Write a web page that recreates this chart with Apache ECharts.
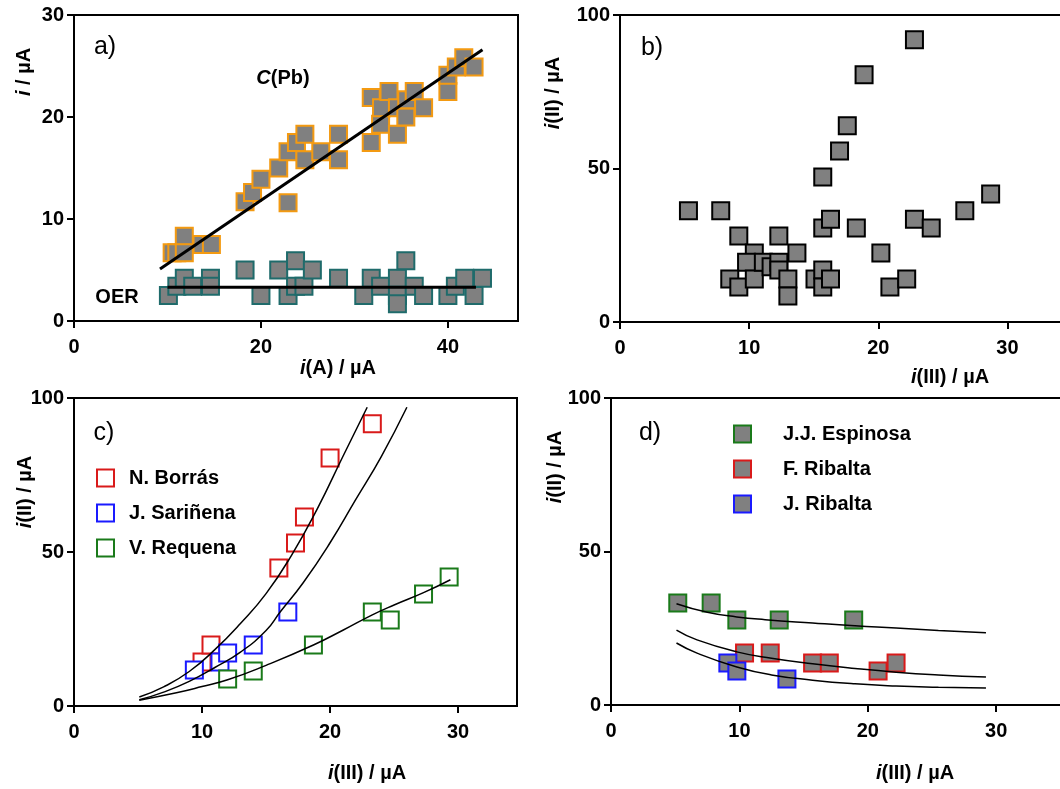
<!DOCTYPE html>
<html>
<head>
<meta charset="utf-8">
<title>chart</title>
<script src="https://cdn.jsdelivr.net/npm/echarts@6.0.0/dist/echarts.min.js"></script>
<style>
  html, body { margin: 0; padding: 0; background: #fff; }
  #chart { width: 1060px; height: 789px; }
</style>
</head>
<body>
<div id="chart"></div>
<script>
// a) C(Pb) and OER vs i(A)
const cpbPoints = [
  [10.5,6.7],[11,6.7],[11.8,8.3],[11.8,6.7],[13.7,7.5],[14.7,7.5],
  [18.3,11.7],[19.1,12.6],[20,13.9],[22.9,11.6],[21.9,15.0],[22.9,16.6],[23.8,17.5],[24.7,18.3],[24.7,15.8],[26.4,16.6],[28.3,18.3],[28.3,15.8],
  [31.8,17.5],[31.8,21.9],[32.8,19.3],[32.9,20.9],[33.7,22.5],[34.6,20.9],[34.6,18.3],[35.5,20.0],[35.6,21.7],[36.4,22.5],[37.4,20.9],
  [40,22.5],[40,24.1],[40.9,24.9],[41.7,25.8],[42.8,24.9]
]
const oerPoints = [
  [10.1,2.5],[11,3.4],[11.8,4.2],[12.7,3.4],[14.6,4.2],[14.6,3.4],[18.3,5.0],[20,2.5],[21.9,5.0],[22.9,2.5],
  [23.7,5.9],[23.7,3.4],[24.6,3.4],[25.5,5.0],[28.3,4.2],[31,2.5],[31.8,4.2],[32.8,3.4],[34.6,4.2],[34.6,2.5],
  [34.6,1.7],[35.5,5.9],[36.4,3.4],[37.4,2.5],[40,2.5],[40.8,3.4],[41.8,4.2],[42.8,2.5],[43.7,4.2]
]
const cpbFit = [[9.2,5.1],[43.7,26.6]]
const oerFit = [[10,3.3],[43,3.3]]

// b) i(II) vs i(III)
const bPoints = [
  [5.3,36.2],[7.8,36.2],[9.2,28.0],[10.4,22.5],[9.8,19.5],[8.5,14.0],[9.2,11.4],[10.4,14.0],[11.1,19.5],
  [12.3,28.0],[11.7,18.0],[12.3,19.5],[12.3,16.9],[13.0,14.0],[13.0,8.5],[13.7,22.5],[15.1,14.0],[15.7,16.9],
  [15.7,11.4],[16.3,14.0],[15.7,30.6],[16.3,33.5],[15.7,47.2],[17.0,55.7],[17.6,63.9],[18.9,80.5],[18.3,30.6],
  [20.2,22.5],[20.9,11.4],[22.2,14.0],[22.8,33.5],[22.8,91.9],[24.1,30.6],[26.7,36.2],[28.7,41.7]
]

// c) three operators, hollow squares
const borrasPoints = [[10.0,14.3],[10.7,19.8],[16.0,44.8],[17.3,52.9],[18.0,61.4],[20.0,80.5],[23.3,91.6]]
const sarinenaPoints = [[9.4,11.7],[11.4,14.3],[12.0,17.2],[14.0,19.8],[16.7,30.5]]
const requenaPoints = [[12.0,8.8],[14.0,11.4],[18.7,19.8],[23.3,30.5],[24.7,27.9],[27.3,36.4],[29.3,41.9]]
const cFit1 = [[5.1,2.9],[7,6.2],[9,11.2],[11,18.3],[13,26.8],[15,36.5],[17,49],[19,64],[21,81],[22.9,97]]
const cFit2 = [[5.1,2],[7,4.5],[9,8],[11,12.5],[13,17.5],[15,24.5],[16.1,30.5],[17.9,40],[20,53],[22,67],[24,81],[26,97]]
const cFit3 = [[5.1,1.9],[8,4.3],[10,6.3],[12,8.5],[15,13.2],[18.7,19.8],[21,24.6],[23.3,29.6],[25,32.8],[27.3,36.8],[29.4,41]]

// d) three operators, filled squares
const espinosaPoints = [[5.2,33.2],[7.8,33.2],[9.8,27.7],[13.1,27.7],[18.9,27.7]]
const fribaltaPoints = [[10.4,16.9],[12.4,16.9],[15.7,13.7],[17.0,13.7],[20.8,11.1],[22.2,13.7]]
const jribaltaPoints = [[9.1,13.7],[9.8,11.1],[13.7,8.5]]
const dFit1 = [[5.1,33],[7.5,30.2],[9.8,28.7],[12,27.8],[15.7,26.7],[19,25.8],[22.2,25.1],[25.5,24.3],[29.2,23.5]]
const dFit2 = [[5.1,24.4],[6.7,21.2],[9.8,17.3],[12.5,15.2],[15.7,13.4],[19,11.9],[22.2,10.7],[25.5,9.8],[29.2,9.1]]
const dFit3 = [[5.1,20.2],[6.7,16.9],[9.8,12.4],[12.5,9.8],[15.7,8.1],[19,6.9],[22.2,6.2],[25.5,5.8],[29.2,5.5]]

const aXTicks = [0,20,40]
const aYTicks = [0,10,20,30]
const xTicks = [0,10,20,30]
const yTicks = [0,50,100]

const FONT = 'Liberation Sans, Arial, sans-serif'
const GRAY = '#808080'

var myChart = echarts.init(document.getElementById('chart'))

function makeX(idx, max, ticks){
  return {
    type:'value', gridIndex: idx, min: 0, max: max,
    axisLine:{show:true, onZero:false, lineStyle:{color:'#000', width:2}},
    axisTick:{show:true, length:7, lineStyle:{color:'#000', width:2}, customValues: ticks},
    axisLabel:{color:'#000', fontSize:20, fontWeight:'bold', fontFamily:FONT, margin:16, customValues: ticks},
    splitLine:{show:false}
  }
}
function makeY(idx, max, ticks){
  return {
    type:'value', gridIndex: idx, min: 0, max: max,
    axisLine:{show:true, onZero:false, lineStyle:{color:'#000', width:2}},
    axisTick:{show:true, length:7, lineStyle:{color:'#000', width:2}, customValues: ticks},
    axisLabel:{color:'#000', fontSize:20, fontWeight:'bold', fontFamily:FONT, margin:10, customValues: ticks},
    splitLine:{show:false}
  }
}
function squares(name, idx, data, border, fill){
  return {
    name: name, type:'scatter', xAxisIndex: idx, yAxisIndex: idx,
    symbol:'rect', symbolSize:17, data: data,
    itemStyle:{color: fill, borderColor: border, borderWidth: 2, opacity: 1}
  }
}
function fitLine(idx, data, width, smooth){
  return {
    type:'line', xAxisIndex: idx, yAxisIndex: idx, data: data,
    symbol:'none', smooth: smooth, silent: true,
    lineStyle:{color:'#000', width: width}
  }
}
function txt(x, y, text, size, weight, rot){
  return {
    type:'text', x: x, y: y, rotation: rot || 0,
    style:{
      text: text, fill:'#000', align:'center', verticalAlign:'middle',
      fontSize: size, fontWeight: weight, fontFamily: FONT,
      rich:{
        it:{fontStyle:'italic', fontSize: size, fontWeight: weight, fontFamily: FONT, fill:'#000'},
        n:{fontSize: size, fontWeight: weight, fontFamily: FONT, fill:'#000'}
      }
    }
  }
}

var legendText = {color:'#000', fontSize:20, fontWeight:'bold', fontFamily:FONT, lineHeight:20}
var gridBase = {show:true, borderColor:'#000', borderWidth:2, containLabel:false, outerBoundsMode:'none'}

var option = {
  animation: false,
  backgroundColor: '#fff',
  grid: [
    Object.assign({left:74, top:15, width:444, height:306}, gridBase),
    Object.assign({left:620, top:15, width:452, height:307}, gridBase),
    Object.assign({left:74, top:398, width:443, height:308}, gridBase),
    Object.assign({left:611, top:398, width:452, height:307}, gridBase)
  ],
  xAxis: [makeX(0, 47.5, aXTicks), makeX(1, 35, xTicks), makeX(2, 34.6, xTicks), makeX(3, 35.2, xTicks)],
  yAxis: [makeY(0, 30, aYTicks), makeY(1, 100, yTicks), makeY(2, 100, yTicks), makeY(3, 100, yTicks)],
  legend: [
    {
      left:91, top:463, orient:'vertical', icon:'rect', itemWidth:17, itemHeight:17, itemGap:15,
      selectedMode:false, data:['N. Borrás','J. Sariñena','V. Requena'],
      textStyle: Object.assign({padding:[0,0,0,10]}, legendText)
    },
    {
      left:728, top:419, orient:'vertical', icon:'rect', itemWidth:17, itemHeight:17, itemGap:15,
      selectedMode:false, data:['J.J. Espinosa','F. Ribalta','J. Ribalta'],
      textStyle: Object.assign({padding:[0,0,0,27]}, legendText)
    }
  ],
  series: [
    fitLine(0, cpbFit, 3, false),
    fitLine(0, oerFit, 3, false),
    squares('C(Pb)', 0, cpbPoints, '#f39a12', GRAY),
    squares('OER', 0, oerPoints, '#1f6b6b', GRAY),
    squares('b', 1, bPoints, '#000', GRAY),
    fitLine(2, cFit1, 1.5, true),
    fitLine(2, cFit2, 1.5, true),
    fitLine(2, cFit3, 1.5, true),
    squares('N. Borrás', 2, borrasPoints, '#d91a1a', '#fff'),
    squares('J. Sariñena', 2, sarinenaPoints, '#1a1aff', '#fff'),
    squares('V. Requena', 2, requenaPoints, '#1a7a1a', '#fff'),
    fitLine(3, dFit1, 1.5, true),
    fitLine(3, dFit2, 1.5, true),
    fitLine(3, dFit3, 1.5, true),
    squares('J.J. Espinosa', 3, espinosaPoints, '#1a7a1a', GRAY),
    squares('F. Ribalta', 3, fribaltaPoints, '#d91a1a', GRAY),
    squares('J. Ribalta', 3, jribaltaPoints, '#1a1aff', GRAY)
  ],
  graphic: [
    txt(105, 47, 'a)', 25, 'normal'),
    txt(652, 48, 'b)', 25, 'normal'),
    txt(104, 433, 'c)', 25, 'normal'),
    txt(650, 433, 'd)', 25, 'normal'),
    txt(283, 78, '{it|C}{n|(Pb)}', 20, 'bold'),
    txt(117, 297, 'OER', 20, 'bold'),
    txt(24, 72, '{it|i}{n| / µA}', 20, 'bold', Math.PI/2),
    txt(338, 368, '{it|i}{n|(A) / µA}', 20, 'bold'),
    txt(553, 93, '{it|i}{n|(II) / µA}', 20, 'bold', Math.PI/2),
    txt(950, 377, '{it|i}{n|(III) / µA}', 20, 'bold'),
    txt(25, 492, '{it|i}{n|(II) / µA}', 20, 'bold', Math.PI/2),
    txt(367, 773, '{it|i}{n|(III) / µA}', 20, 'bold'),
    txt(555, 467, '{it|i}{n|(II) / µA}', 20, 'bold', Math.PI/2),
    txt(915, 773, '{it|i}{n|(III) / µA}', 20, 'bold')
  ]
}
myChart.setOption(option)
</script>
</body>
</html>
